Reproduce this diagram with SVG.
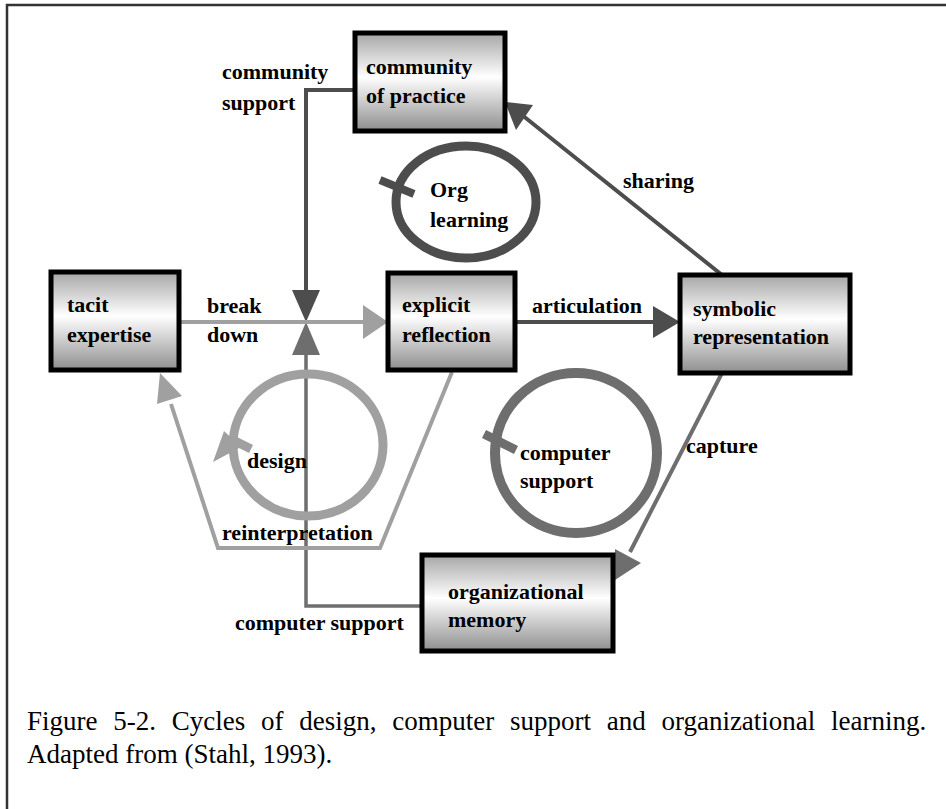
<svg xmlns="http://www.w3.org/2000/svg" width="946" height="809" viewBox="0 0 946 809">
<defs>
<linearGradient id="boxfill" x1="0" y1="0" x2="0" y2="1">
<stop offset="0" stop-color="#a6a6a6"/>
<stop offset="0.45" stop-color="#ffffff"/>
<stop offset="1" stop-color="#8e8e8e"/>
</linearGradient>
</defs>
<style>
.box{fill:url(#boxfill);stroke:#000;stroke-width:5}
.t{font-weight:bold;font-size:22px;fill:#000}
.cap{font-size:27px;fill:#000}
.dark{stroke:#4d4d4d;fill:none}
.mid{stroke:#6e6e6e;fill:none}
.light{stroke:#a0a0a0;fill:none}
.hdark{fill:#4d4d4d}
.hmid{fill:#6e6e6e}
.hlight{fill:#a0a0a0}
</style>
<rect width="946" height="809" fill="#fff"/>
<path d="M7,809 V5 H946" fill="none" stroke="#333" stroke-width="2.5"/>

<g id="connectors">
<polyline class="dark" stroke-width="4" points="355,90 306,90 306,292"/>
<polygon class="hdark" points="292,290 320,290 306,322"/>
<polyline class="mid" stroke-width="3.5" points="422,606 306,606 306,352"/>
<polygon class="hmid" points="292,355 320,355 306,322"/>
<line class="light" stroke-width="4" x1="179" y1="322" x2="366" y2="322"/>
<polygon class="hlight" points="363,305 363,339 388,322"/>
<line class="dark" stroke-width="4" x1="515" y1="322" x2="656" y2="322"/>
<polygon class="hdark" points="653,306 653,338 680,322"/>
<line class="dark" stroke-width="4" x1="722" y1="275" x2="522" y2="115"/>
<polygon class="hdark" points="505,102 533,105 516,130"/>
<line class="mid" stroke-width="4" x1="722" y1="373" x2="630" y2="552"/>
<polygon class="hmid" points="615,580 641,563 615,549"/>
<polyline class="light" stroke-width="4" points="452,372 380,548 218,548 171,404"/>
<polygon class="hlight" points="160,373 182,396 157,404"/>
</g>

<g font-family="'Liberation Serif', 'DejaVu Serif', serif">
<g id="cycle-org-learning">
<ellipse class="dark" stroke-width="9" cx="466" cy="202" rx="70" ry="56"/>
<line class="dark" stroke-width="8" x1="380" y1="180" x2="414" y2="194"/>
<text class="t" x="430" y="197">Org</text>
<text class="t" x="430" y="227">learning</text>
</g>
<g id="cycle-computer-support">
<ellipse class="mid" stroke-width="10" cx="576" cy="453" rx="81" ry="80"/>
<line class="mid" stroke-width="9" x1="484" y1="434" x2="516" y2="450"/>
<text class="t" x="520" y="460">computer</text>
<text class="t" x="520" y="488">support</text>
</g>
<g id="cycle-design">
<ellipse class="light" stroke-width="9" cx="308" cy="445" rx="75" ry="71"/>
<polygon class="hlight" points="213,462 224,431 241,447"/>
<line class="light" stroke-width="9" x1="229" y1="438" x2="251" y2="449"/>
<text class="t" x="247" y="468">design</text>
</g>

<g id="community-of-practice">
<rect class="box" x="355" y="33" width="150" height="98"/>
<text class="t" x="366" y="74">community</text>
<text class="t" x="366" y="103">of practice</text>
</g>
<g id="tacit-expertise">
<rect class="box" x="51" y="272" width="128" height="98"/>
<text class="t" x="67" y="312">tacit</text>
<text class="t" x="67" y="342">expertise</text>
</g>
<g id="explicit-reflection">
<rect class="box" x="388" y="273" width="127" height="97"/>
<text class="t" x="402" y="312">explicit</text>
<text class="t" x="402" y="342">reflection</text>
</g>
<g id="symbolic-representation">
<rect class="box" x="680" y="275" width="170" height="98"/>
<text class="t" x="693" y="316">symbolic</text>
<text class="t" x="693" y="344">representation</text>
</g>
<g id="organizational-memory">
<rect class="box" x="422" y="555" width="191" height="96"/>
<text class="t" x="448" y="599">organizational</text>
<text class="t" x="448" y="627">memory</text>
</g>

<g id="labels">
<text class="t" x="222" y="79">community</text>
<text class="t" x="222" y="110">support</text>
<text class="t" x="207" y="313">break</text>
<text class="t" x="207" y="342">down</text>
<text class="t" x="532" y="313">articulation</text>
<text class="t" x="623" y="188">sharing</text>
<text class="t" x="686" y="453">capture</text>
<text class="t" x="222" y="540">reinterpretation</text>
<text class="t" x="235" y="630">computer support</text>
</g>

<g id="caption">
<text class="cap" x="27" y="730" word-spacing="9">Figure 5-2. Cycles of design, computer support and organizational learning.</text>
<text class="cap" x="27" y="763">Adapted from (Stahl, 1993).</text>
</g>
</g>
</svg>
